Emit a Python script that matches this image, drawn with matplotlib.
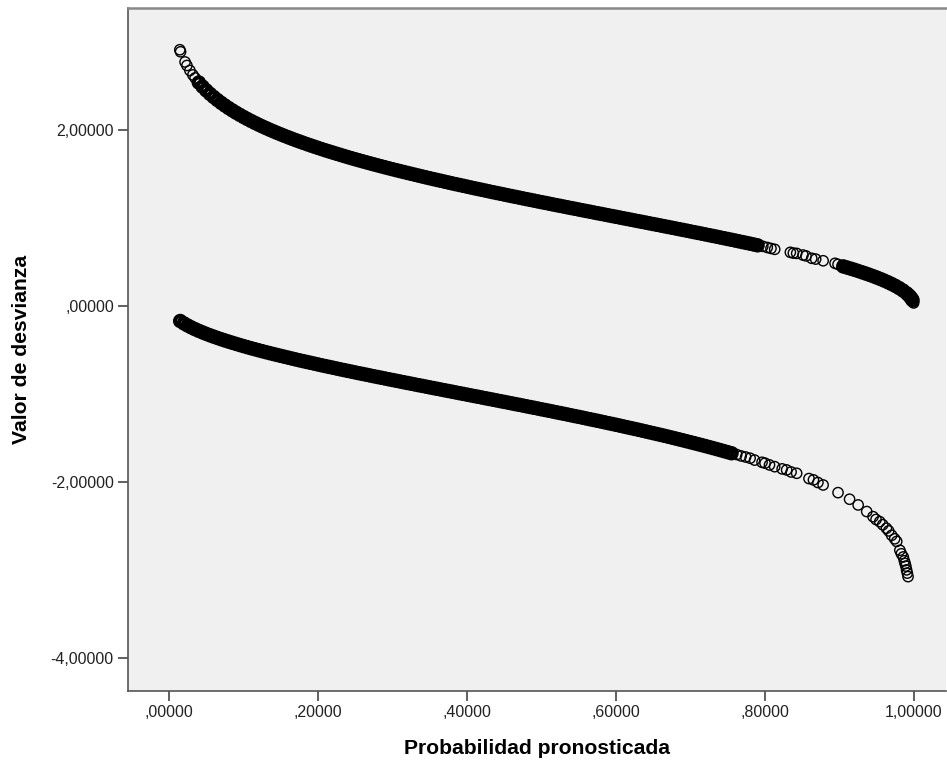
'''
Deviance residuals vs predicted probability (SPSS style scatter)
'''
import matplotlib
matplotlib.use('Agg')
import matplotlib.pyplot as plt
from matplotlib.ticker import FixedLocator

# upper branch, sparse start
up_start_x = [0.0145, 0.0155, 0.0215, 0.024, 0.028, 0.032, 0.035]
up_start_y = [2.9099, 2.8868, 2.7712, 2.7312, 2.6742, 2.6237, 2.5894]

# upper branch, dense part
up_dense_x = [
    0.040, 0.045, 0.050, 0.055, 0.060, 0.065, 0.070, 0.075, 0.080, 0.085,
    0.090, 0.095, 0.100, 0.105, 0.110, 0.115, 0.120, 0.125, 0.130, 0.135,
    0.140, 0.145, 0.150, 0.155, 0.160, 0.165, 0.170, 0.175, 0.180, 0.185,
    0.190, 0.195, 0.200, 0.205, 0.210, 0.215, 0.220, 0.225, 0.230, 0.235,
    0.240, 0.245, 0.250, 0.255, 0.260, 0.265, 0.270, 0.275, 0.280, 0.285,
    0.290, 0.295, 0.300, 0.305, 0.310, 0.315, 0.320, 0.325, 0.330, 0.335,
    0.340, 0.345, 0.350, 0.355, 0.360, 0.365, 0.370, 0.375, 0.380, 0.385,
    0.390, 0.395, 0.400, 0.405, 0.410, 0.415, 0.420, 0.425, 0.430, 0.435,
    0.440, 0.445, 0.450, 0.455, 0.460, 0.465, 0.470, 0.475, 0.480, 0.485,
    0.490, 0.495, 0.500, 0.505, 0.510, 0.515, 0.520, 0.525, 0.530, 0.535,
    0.540, 0.545, 0.550, 0.555, 0.560, 0.565, 0.570, 0.575, 0.580, 0.585,
    0.590, 0.595, 0.600, 0.605, 0.610, 0.615, 0.620, 0.625, 0.630, 0.635,
    0.640, 0.645, 0.650, 0.655, 0.660, 0.665, 0.670, 0.675, 0.680, 0.685,
    0.690, 0.695, 0.700, 0.705, 0.710, 0.715, 0.720, 0.725, 0.730, 0.735,
    0.740, 0.745, 0.750, 0.755, 0.760, 0.765, 0.770, 0.775, 0.780, 0.785,
    0.790]
up_dense_y = [
    2.5373, 2.4904, 2.4477, 2.4085, 2.3721, 2.3381, 2.3062, 2.2761, 2.2475, 2.2204,
    2.1945, 2.1697, 2.1460, 2.1231, 2.1011, 2.0798, 2.0593, 2.0393, 2.0200, 2.0012,
    1.9830, 1.9652, 1.9479, 1.9310, 1.9145, 1.8983, 1.8825, 1.8671, 1.8519, 1.8371,
    1.8225, 1.8082, 1.7941, 1.7803, 1.7667, 1.7534, 1.7402, 1.7272, 1.7145, 1.7019,
    1.6894, 1.6772, 1.6651, 1.6532, 1.6414, 1.6297, 1.6182, 1.6069, 1.5956, 1.5845,
    1.5735, 1.5626, 1.5518, 1.5411, 1.5305, 1.5200, 1.5096, 1.4993, 1.4891, 1.4789,
    1.4689, 1.4589, 1.4490, 1.4392, 1.4294, 1.4198, 1.4101, 1.4006, 1.3911, 1.3817,
    1.3723, 1.3630, 1.3537, 1.3445, 1.3354, 1.3263, 1.3172, 1.3082, 1.2992, 1.2903,
    1.2814, 1.2725, 1.2637, 1.2550, 1.2462, 1.2375, 1.2288, 1.2202, 1.2116, 1.2030,
    1.1944, 1.1859, 1.1774, 1.1689, 1.1605, 1.1520, 1.1436, 1.1352, 1.1268, 1.1185,
    1.1101, 1.1018, 1.0935, 1.0852, 1.0769, 1.0686, 1.0603, 1.0520, 1.0438, 1.0355,
    1.0273, 1.0190, 1.0108, 1.0025, 0.9943, 0.9860, 0.9778, 0.9695, 0.9613, 0.9530,
    0.9448, 0.9365, 0.9282, 0.9199, 0.9116, 0.9033, 0.8950, 0.8866, 0.8783, 0.8699,
    0.8615, 0.8530, 0.8446, 0.8361, 0.8276, 0.8191, 0.8106, 0.8020, 0.7934, 0.7847,
    0.7760, 0.7673, 0.7585, 0.7497, 0.7409, 0.7320, 0.7230, 0.7140, 0.7049, 0.6958,
    0.6866]

# upper branch, loose circles around the gap
up_gap_x = [0.797, 0.803, 0.808, 0.813, 0.834, 0.838, 0.8425, 0.851, 0.855, 0.8627,
            0.868, 0.878, 0.894, 0.898]
up_gap_y = [0.675, 0.662, 0.651, 0.641, 0.607, 0.598, 0.595, 0.576, 0.566, 0.539,
            0.530, 0.511, 0.482, 0.470]

# upper branch, dense tail near 1
up_tail_x = [0.905, 0.910, 0.915, 0.920, 0.925, 0.930, 0.935, 0.940, 0.945, 0.950,
             0.955, 0.960, 0.965, 0.970, 0.975, 0.980, 0.985, 0.990, 0.993, 0.995,
             0.997, 0.998]
up_tail_y = [0.4468, 0.4343, 0.4215, 0.4084, 0.3949, 0.3810, 0.3666, 0.3518, 0.3364, 0.3203,
             0.3034, 0.2857, 0.2669, 0.2468, 0.2250, 0.2010, 0.1738, 0.1418, 0.1185, 0.1001,
             0.0775, 0.0633]

# upper branch, last circles at p ~ 1
up_end_x = [0.999, 0.9995]
up_end_y = [0.0447, 0.0316]

# lower branch, dense part
lo_dense_x = [
    0.015, 0.020, 0.025, 0.030, 0.035, 0.040, 0.045, 0.050, 0.055, 0.060,
    0.065, 0.070, 0.075, 0.080, 0.085, 0.090, 0.095, 0.100, 0.105, 0.110,
    0.115, 0.120, 0.125, 0.130, 0.135, 0.140, 0.145, 0.150, 0.155, 0.160,
    0.165, 0.170, 0.175, 0.180, 0.185, 0.190, 0.195, 0.200, 0.205, 0.210,
    0.215, 0.220, 0.225, 0.230, 0.235, 0.240, 0.245, 0.250, 0.255, 0.260,
    0.265, 0.270, 0.275, 0.280, 0.285, 0.290, 0.295, 0.300, 0.305, 0.310,
    0.315, 0.320, 0.325, 0.330, 0.335, 0.340, 0.345, 0.350, 0.355, 0.360,
    0.365, 0.370, 0.375, 0.380, 0.385, 0.390, 0.395, 0.400, 0.405, 0.410,
    0.415, 0.420, 0.425, 0.430, 0.435, 0.440, 0.445, 0.450, 0.455, 0.460,
    0.465, 0.470, 0.475, 0.480, 0.485, 0.490, 0.495, 0.500, 0.505, 0.510,
    0.515, 0.520, 0.525, 0.530, 0.535, 0.540, 0.545, 0.550, 0.555, 0.560,
    0.565, 0.570, 0.575, 0.580, 0.585, 0.590, 0.595, 0.600, 0.605, 0.610,
    0.615, 0.620, 0.625, 0.630, 0.635, 0.640, 0.645, 0.650, 0.655, 0.660,
    0.665, 0.670, 0.675, 0.680, 0.685, 0.690, 0.695, 0.700, 0.705, 0.710,
    0.715, 0.720, 0.725, 0.730, 0.735, 0.740, 0.745, 0.750, 0.755]
lo_dense_y = [
    -0.1738, -0.2010, -0.2250, -0.2468, -0.2669, -0.2857, -0.3034, -0.3203, -0.3364, -0.3518,
    -0.3666, -0.3810, -0.3949, -0.4084, -0.4215, -0.4343, -0.4468, -0.4590, -0.4710, -0.4828,
    -0.4943, -0.5056, -0.5168, -0.5278, -0.5386, -0.5492, -0.5597, -0.5701, -0.5804, -0.5905,
    -0.6005, -0.6105, -0.6203, -0.6300, -0.6396, -0.6492, -0.6587, -0.6680, -0.6774, -0.6866,
    -0.6958, -0.7049, -0.7140, -0.7230, -0.7320, -0.7409, -0.7497, -0.7585, -0.7673, -0.7760,
    -0.7847, -0.7934, -0.8020, -0.8106, -0.8191, -0.8276, -0.8361, -0.8446, -0.8530, -0.8615,
    -0.8699, -0.8783, -0.8866, -0.8950, -0.9033, -0.9116, -0.9199, -0.9282, -0.9365, -0.9448,
    -0.9530, -0.9613, -0.9695, -0.9778, -0.9860, -0.9943, -1.0025, -1.0108, -1.0190, -1.0273,
    -1.0355, -1.0438, -1.0520, -1.0603, -1.0686, -1.0769, -1.0852, -1.0935, -1.1018, -1.1101,
    -1.1185, -1.1268, -1.1352, -1.1436, -1.1520, -1.1605, -1.1689, -1.1774, -1.1859, -1.1944,
    -1.2030, -1.2116, -1.2202, -1.2288, -1.2375, -1.2462, -1.2550, -1.2637, -1.2725, -1.2814,
    -1.2903, -1.2992, -1.3082, -1.3172, -1.3263, -1.3354, -1.3445, -1.3537, -1.3630, -1.3723,
    -1.3817, -1.3911, -1.4006, -1.4101, -1.4198, -1.4294, -1.4392, -1.4490, -1.4589, -1.4689,
    -1.4789, -1.4891, -1.4993, -1.5096, -1.5200, -1.5305, -1.5411, -1.5518, -1.5626, -1.5735,
    -1.5845, -1.5956, -1.6069, -1.6182, -1.6297, -1.6414, -1.6532, -1.6651, -1.6772]

# lower branch, loose circles in the tail
lo_tail_x = [0.762, 0.768, 0.774, 0.780, 0.786, 0.796, 0.800, 0.806, 0.813, 0.823,
             0.829, 0.835, 0.8425, 0.859, 0.865, 0.871, 0.878, 0.898, 0.9135, 0.925,
             0.9365, 0.945, 0.949, 0.954, 0.958, 0.963, 0.966, 0.970, 0.974, 0.9768,
             0.981, 0.983, 0.9856, 0.987, 0.988, 0.989, 0.990, 0.991, 0.992]
lo_tail_y = [-1.692, -1.708, -1.720, -1.734, -1.755, -1.780, -1.790, -1.810, -1.830, -1.855,
             -1.867, -1.890, -1.905, -1.965, -1.980, -2.010, -2.038, -2.125, -2.200, -2.265,
             -2.340, -2.398, -2.430, -2.455, -2.490, -2.530, -2.560, -2.610, -2.650, -2.680,
             -2.780, -2.820, -2.856, -2.900, -2.930, -2.960, -3.003, -3.040, -3.080]

x_ticks = [0.0, 0.2, 0.4, 0.6, 0.8, 1.0]
x_ticklabels = [',00000', ',20000', ',40000', ',60000', ',80000', '1,00000']
y_ticks = [-4.0, -2.0, 0.0, 2.0]
y_ticklabels = ['-4,00000', '-2,00000', ',00000', '2,00000']


def main():
    plt.rcParams['font.family'] = ['Liberation Sans', 'DejaVu Sans']

    fig = plt.figure(figsize=(9.47, 7.67), dpi=100)
    ax = fig.add_axes([0.1349, 0.0991, 0.8641, 0.8911])
    ax.set_facecolor('#f0f0f0')

    # single open circles
    loose = dict(s=7.4 ** 2, facecolors='none', edgecolors='black', linewidths=1.0)
    # heavily overlapping circles merge into a solid black band
    packed = dict(s=7.4 ** 2, facecolors='none', edgecolors='black', linewidths=3.0)

    for xs, ys in [(up_dense_x, up_dense_y), (up_tail_x, up_tail_y),
                   (lo_dense_x, lo_dense_y)]:
        ax.scatter(xs, ys, **packed)
    for xs, ys in [(up_start_x, up_start_y), (up_gap_x, up_gap_y),
                   (up_end_x, up_end_y), (lo_tail_x, lo_tail_y)]:
        ax.scatter(xs, ys, **loose)

    ax.set_xlim(-0.0554, 1.043)
    ax.set_ylim(-4.38, 3.39)

    ax.xaxis.set_major_locator(FixedLocator(x_ticks))
    ax.set_xticklabels(x_ticklabels)
    ax.yaxis.set_major_locator(FixedLocator(y_ticks))
    ax.set_yticklabels(y_ticklabels)
    ax.tick_params(direction='out', length=7, width=1.2, color='#444444',
                   labelsize=11.5, labelcolor='#222222', pad=3)

    for side in ['left', 'bottom']:
        ax.spines[side].set_color('#555555')
        ax.spines[side].set_linewidth(1.2)
    ax.spines['top'].set_color('#888888')
    ax.spines['top'].set_linewidth(1.8)
    ax.spines['right'].set_visible(False)

    ax.set_xlabel('Probabilidad pronosticada', fontsize=15.2, fontweight='bold', labelpad=14)
    ax.set_ylabel('Valor de desvianza', fontsize=15.2, fontweight='bold', labelpad=14)

    fig.savefig('out.png', dpi=100, facecolor='white')


if __name__ == "__main__":
    main()
